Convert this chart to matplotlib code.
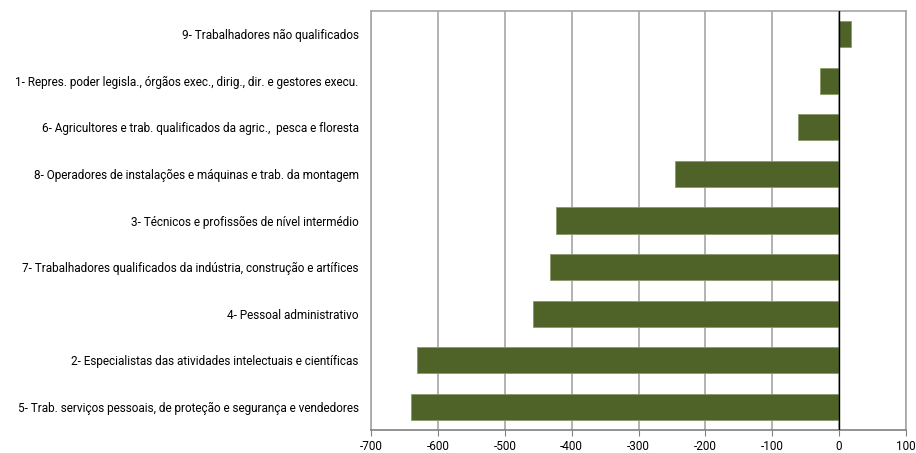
import matplotlib
matplotlib.use("Agg")
import matplotlib.pyplot as plt

categories = [
    "5- Trab. serviços pessoais, de proteção e segurança e vendedores",
    "2- Especialistas das atividades intelectuais e científicas",
    "4- Pessoal administrativo",
    "7- Trabalhadores qualificados da indústria, construção e artífices",
    "3- Técnicos e profissões de nível intermédio",
    "8- Operadores de instalações e máquinas e trab. da montagem",
    "6- Agricultores e trab. qualificados da agric.,  pesca e floresta",
    "1- Repres. poder legisla., órgãos exec., dirig., dir. e gestores execu.",
    "9- Trabalhadores não qualificados",
]
values = [-640, -631, -458, -432, -424, -246, -62, -29, 18]
xticks = [-700, -600, -500, -400, -300, -200, -100, 0, 100]

plt.rcParams['font.family'] = ['Roboto', 'DejaVu Sans']

fig = plt.figure(figsize=(9.16, 4.53), dpi=100)
ax = fig.add_axes([371/916, 1 - 430/453, (906-371)/916, (430-11)/453])

ypos = list(range(len(categories)))
ax.barh(ypos, values, height=0.56, color='#4F6228', edgecolor='#8A9A6A', linewidth=0.6, zorder=3)
ax.set_ylim(-0.5, len(categories) - 0.5)
ax.set_xlim(-700, 100)
ax.set_xticks(xticks)
ax.set_xticklabels([str(t) for t in xticks], fontsize=8.5)
ax.set_yticks(ypos)
ax.set_yticklabels(categories, fontsize=8.5)
ax.tick_params(axis='y', length=0, pad=9)
ax.tick_params(axis='x', length=4, direction='out', color='#808080', pad=3)
ax.grid(axis='x', color='#A6A6A6', linewidth=1.2, zorder=0)
ax.axvline(0, color='black', linewidth=1.0, zorder=4)
for s in ['top', 'left', 'right']:
    ax.spines[s].set_color('#A6A6A6')
    ax.spines[s].set_linewidth(1.2)
ax.spines['bottom'].set_color('#808080')
ax.spines['bottom'].set_linewidth(1.2)

fig.savefig('out.png', dpi=100)
